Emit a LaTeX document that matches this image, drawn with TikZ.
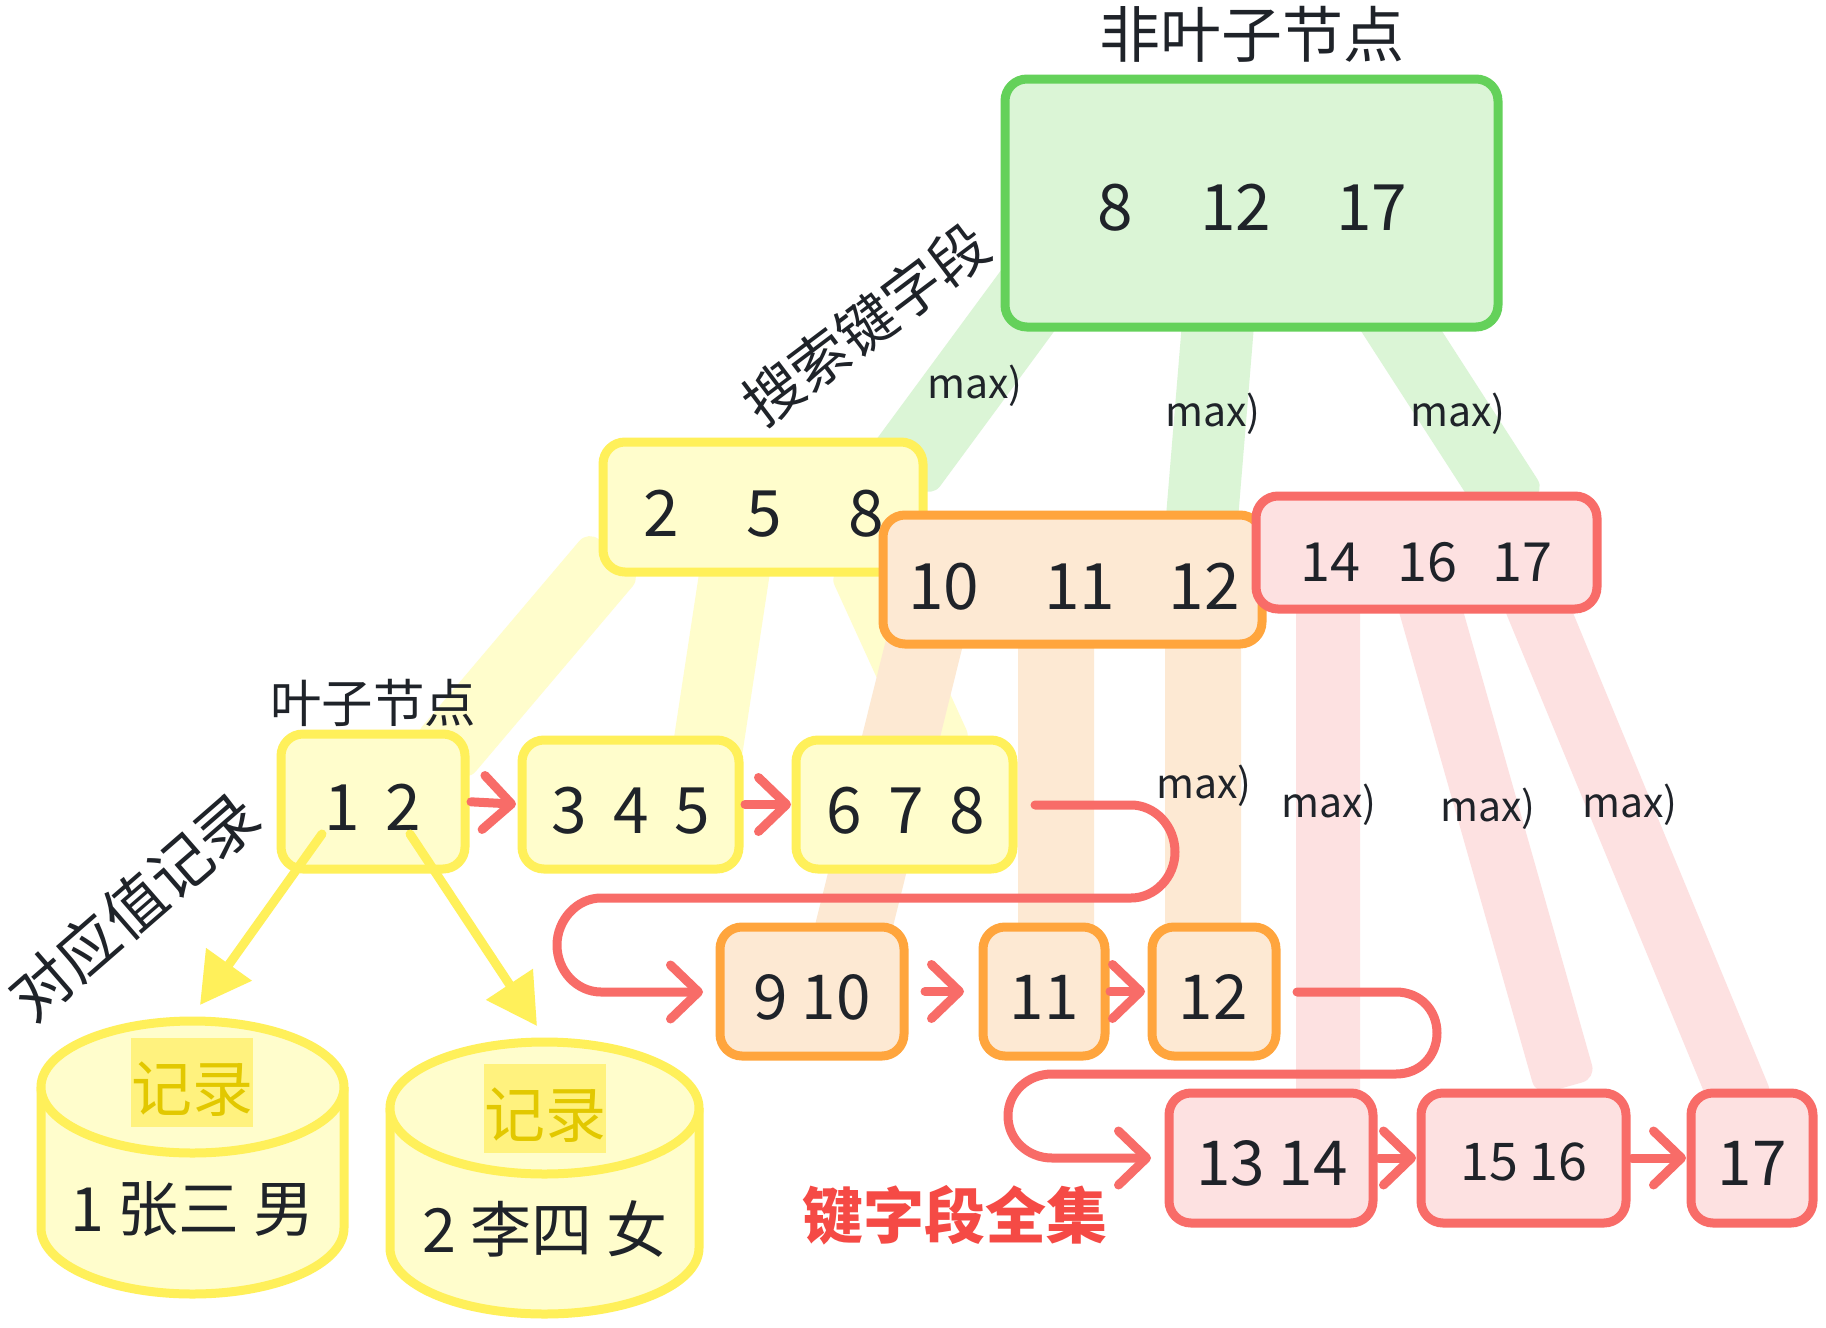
\documentclass[tikz,border=0pt]{standalone}
\usepackage{fontspec}
\setmainfont{Noto Sans CJK SC}
\usetikzlibrary{arrows.meta,backgrounds,calc}
\definecolor{cgreen}{HTML}{64D15A}
\definecolor{fgreen}{HTML}{DBF5D6}
\definecolor{cyellow}{HTML}{FFF05A}
\definecolor{fyellow}{HTML}{FFFDCC}
\definecolor{corange}{HTML}{FFA53D}
\definecolor{forange}{HTML}{FDE9D3}
\definecolor{cred}{HTML}{F86C68}
\definecolor{fred}{HTML}{FDE1E1}
\definecolor{ink}{HTML}{1F2329}
\definecolor{hlyellow}{HTML}{FFF27E}
\definecolor{recgold}{HTML}{E2C800}
\definecolor{boldred}{HTML}{F54A45}
\newcommand{\fs}[1]{\fontsize{#1pt}{#1pt}\selectfont}
\newcommand{\gp}[1]{\hspace*{#1pt}}
\newcommand{\lowrec}[1]{\raisebox{-6pt}[0.88em][0.12em]{#1}}
\tikzset{
  x=1pt,y=-1pt,
  boxbase/.style={rectangle,rounded corners=22pt,line width=9pt,inner sep=0pt,outer sep=0pt},
  gbox/.style={boxbase,draw=cgreen,fill=fgreen},
  ybox/.style={boxbase,draw=cyellow,fill=fyellow},
  obox/.style={boxbase,draw=corange,fill=forange},
  rbox/.style={boxbase,draw=cred,fill=fred},
  lab/.style={text=ink,inner sep=0pt,outer sep=0pt},
  big/.style={lab,font=\fs{64}},
  row/.style={lab,font=\fs{62}},
  mid/.style={lab,font=\fs{54}},
  maxl/.style={lab,font=\fs{41}},
  bandto/.style={to path={
     ($(\tikztostart)!#1!90:(\tikztotarget)$) -- ($(\tikztostart)!#1!-90:(\tikztotarget)$)
     -- ($(\tikztotarget)!#1!90:(\tikztostart)$) -- ($(\tikztotarget)!#1!-90:(\tikztostart)$) -- cycle}},
  gband/.style={fill=fgreen,rounded corners=14pt},
  yband/.style={fill=fyellow,rounded corners=14pt},
  oband/.style={fill=forange,rounded corners=14pt},
  rband/.style={fill=fred,rounded corners=14pt},
  flow/.style={draw=cred,line width=9pt,line cap=round,line join=round,
    -{Straight Barb[length=28pt,width=54pt,line width=9pt,round]}},
  recarrow/.style={draw=cyellow,line width=9pt,line cap=round,
    -{Triangle[length=50pt,width=54pt]}},
  cyl/.style={draw=cyellow,fill=fyellow,line width=9pt},
  rec/.style={fill=hlyellow,text=recgold,font=\fs{61},inner sep=0pt,outer sep=0pt,minimum width=122pt,minimum height=89pt}
}
\begin{document}
\begin{tikzpicture}
\useasboundingbox (0,0) rectangle (1826,1328);

% cylinders
\draw[cyl] (41,1087) -- (41,1228) .. controls (41,1264.5) and (108.8,1294) .. (192.5,1294)
  .. controls (276.2,1294) and (344,1264.5) .. (344,1228) -- (344,1087);
\draw[cyl] (192.5,1087) ellipse [x radius=151.5,y radius=66];
\draw[cyl] (390,1108) -- (390,1248) .. controls (390,1284.5) and (459.2,1314) .. (544.5,1314)
  .. controls (629.8,1314) and (699,1284.5) .. (699,1248) -- (699,1108);
\draw[cyl] (544.5,1108) ellipse [x radius=154.5,y radius=66];
\node[rec] (rec1) at (192,1082) {\lowrec{记录}};
\node[rec] (rec2) at (545,1108) {\lowrec{记录}};
\node[lab,font=\fs{61}] (cyt1) at (192.5,1209) {1 张三 男};
\node[lab,font=\fs{61}] (cyt2) at (545,1229) {2 李四 女};

% upper boxes
\node[gbox,minimum width=493pt,minimum height=248pt] (ng) at (1251.5,203) {};
\node[big] (tng) at (1252.5,208) {8\gp{67}12\gp{65}17};
\node[ybox,minimum width=320pt,minimum height=130pt] (ny) at (763,507) {};
\node[big] (tny) at (764,514) {2\gp{67}5\gp{67}8};
\node[obox,minimum width=379pt,minimum height=129pt] (no) at (1072.5,579.5) {};
\node[big] (tno) at (1074,586.5) {10\gp{65}11\gp{53}12};
\node[rbox,minimum width=341pt,minimum height=113pt] (nr) at (1426.5,552.5) {};
\node[mid] (tnr) at (1426.5,562) {14\gp{37}16\gp{35}17};

% leaf row 1
\node[ybox,minimum width=184pt,minimum height=135pt] (l1) at (373,801.5) {};
\node[big] (tl1) at (373,807) {1\gp{26}2};
\node[ybox,minimum width=217pt,minimum height=129pt] (l2) at (630.5,804.5) {};
\node[big] (tl2) at (631,811) {3\gp{26}4\gp{26}5};
\node[ybox,minimum width=217pt,minimum height=129pt] (l3) at (904.5,804.5) {};
\node[big] (tl3) at (906,811) {6\gp{26}7\gp{26}8};

% leaf row 2
\node[obox,minimum width=184pt,minimum height=129pt] (o1) at (812,991.5) {};
\node[row] (to1) at (812,997) {9 10};
\node[obox,minimum width=122pt,minimum height=129pt] (o2) at (1044,991.5) {};
\node[row] (to2) at (1044,997) {11};
\node[obox,minimum width=124pt,minimum height=129pt] (o3) at (1214,991.5) {};
\node[row] (to3) at (1213,997) {12};

% leaf row 3
\node[rbox,minimum width=204pt,minimum height=130pt] (r1) at (1271,1158) {};
\node[row] (tr1) at (1272,1163.5) {13 14};
\node[rbox,minimum width=205pt,minimum height=130pt] (r2) at (1523.5,1158) {};
\node[lab,font=\fs{52}] (tr2) at (1524,1162) {15 16};
\node[rbox,minimum width=122pt,minimum height=130pt] (r3) at (1752,1158) {};
\node[row] (tr3) at (1752,1163.5) {17};

% wide bands
\begin{scope}[on background layer]
\fill[white] (0,0) rectangle (1826,1328);
\path[yband] ([shift={(-148,46)}]ny.center) to[bandto=35pt] ([shift={(67,-42)}]l1.center);
\path[yband] ([shift={(-25,43)}]ny.center) to[bandto=35pt] ([shift={(75.5,-44.5)}]l2.center);
\path[yband] ([shift={(93,53)}]ny.center) to[bandto=30pt] ([shift={(40.5,-49.5)}]l3.center);
\path[gband] ([shift={(-200.5,66)}]ng.center) to[bandto=39.5pt] ([shift={(137,-33)}]ny.center);
\path[gband] ([shift={(-31.5,97)}]ng.center) to[bandto=36pt] ([shift={(128.5,-49.5)}]no.center);
\path[gband] ([shift={(123.5,87)}]ng.center) to[bandto=34pt] ([shift={(90,-43)}]nr.center);
\path[oband] ([shift={(-142.5,40.5)}]no.center) to[bandto=38pt] ([shift={(36,-41.5)}]o1.center);
\path[oband] ([shift={(-16.5,40.5)}]no.center) to[bandto=38pt] ([shift={(12,-41.5)}]o2.center);
\path[oband] ([shift={(130.5,40.5)}]no.center) to[bandto=38pt] ([shift={(-11,-41.5)}]o3.center);
\path[rband] ([shift={(-98.5,37.5)}]nr.center) to[bandto=32pt] ([shift={(57,-48)}]r1.center);
\path[rband] ([shift={(-1.5,37.5)}]nr.center) to[bandto=31pt] ([shift={(42.5,-71)}]r2.center);
\path[rband] ([shift={(103.5,37.5)}]nr.center) to[bandto=31pt] ([shift={(-7,-48)}]r3.center);
\end{scope}

% max labels
\node[maxl] (m1) at (975,386) {max)};
\node[maxl] (m2) at (1213,414) {max)};
\node[maxl] (m3) at (1458,414) {max)};
\node[maxl] (m4) at (1204,786) {max)};
\node[maxl] (m5) at (1329,805) {max)};
\node[maxl] (m6) at (1488,809) {max)};
\node[maxl] (m7) at (1630,805) {max)};

% flow arrows
\draw[flow,shorten <=6pt,shorten >=6pt] (l1.east) -- (l2.west);
\draw[flow,shorten <=6pt,shorten >=5pt] (l2.east) -- (l3.west);
\coordinate (s1a) at (1035,805);
\coordinate (s1b) at (703,992);
\draw[flow] (s1a) -- (1131,805) .. controls (1155,805) and (1175,826) .. (1175,852)
  .. controls (1175,877) and (1155,898) .. (1131,898) -- (601,898)
  .. controls (577,898) and (557,920) .. (557,945)
  .. controls (557,971) and (577,992) .. (601,992) -- (s1b);
\draw[flow,shorten <=21pt,shorten >=19pt] (o1.east) -- (o2.west);
\draw[flow,shorten <=5pt,shorten >=7pt] (o2.east) -- (o3.west);
\coordinate (s2a) at (1297,992);
\coordinate (s2b) at (1151,1158);
\draw[flow] (s2a) -- (1396,992) .. controls (1420,992) and (1437,1010) .. (1437,1033)
  .. controls (1437,1056) and (1420,1074) .. (1396,1074) -- (1052,1074)
  .. controls (1028,1074) and (1008,1092) .. (1008,1116)
  .. controls (1008,1140) and (1028,1158) .. (1052,1158) -- (s2b);
\draw[flow,shorten <=6pt,shorten >=5pt] (r1.east) -- (r2.west);
\draw[flow,shorten <=6pt,shorten >=5pt] (r2.east) -- (r3.west);

% record arrows
\coordinate (a1s) at (322,834);
\coordinate (a1e) at (200,1005);
\coordinate (a2s) at (410,834);
\coordinate (a2e) at (537,1026);
\draw[recarrow] (a1s) -- (a1e);
\draw[recarrow] (a2s) -- (a2e);

% captions
\node[lab,font=\fs{61}] (cap1) at (1252,34) {非叶子节点};
\node[lab,font=\fs{58},rotate=37] (cap2) at (866,324) {搜索键字段};
\node[lab,font=\fs{51.5}] (cap3) at (373,703) {叶子节点};
\node[lab,font=\fs{61.5},rotate=41] (cap4) at (134,906) {对应值记录};
\node[text=boldred,inner sep=0pt,font=\fs{61}\bfseries] (cap5) at (955,1215) {键字段全集};
\end{tikzpicture}
\end{document}
